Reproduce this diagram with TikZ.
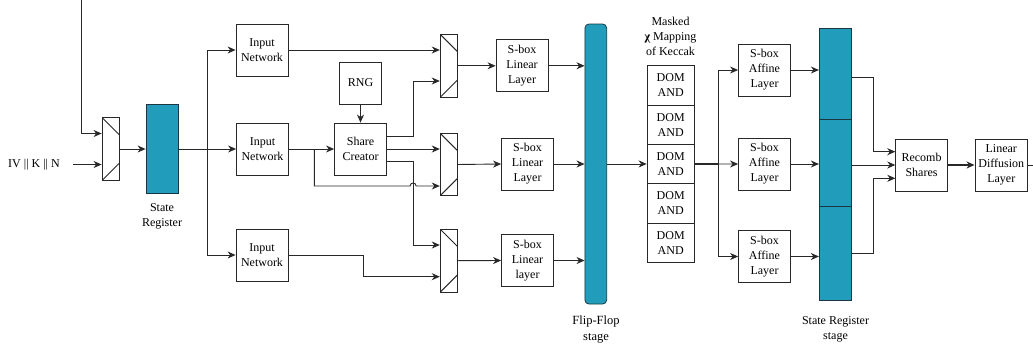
\documentclass[tikz,border=0pt]{standalone}
\usepackage{fontspec}
\setmainfont{Liberation Serif}
\usetikzlibrary{arrows.meta,calc}
\definecolor{regfill}{RGB}{33,157,187}
\definecolor{regdraw}{RGB}{25,55,65}
\definecolor{ln}{RGB}{40,40,40}
\begin{document}
\begin{tikzpicture}[x=1pt,y=-1pt,
  every node/.style={font=\fontsize{12}{15}\selectfont, inner sep=0pt},
  blk/.style={draw=ln, line width=0.8pt, fill=white, align=center, minimum width=52pt, minimum height=52pt},
  dom/.style={blk, minimum width=47.3pt, minimum height=39.3pt},
  muxbox/.style={draw=ln, line width=0.8pt, fill=white, minimum width=17pt, minimum height=63pt,
    path picture={\draw[ln, line width=1pt] (path picture bounding box.north west) -- ([yshift=-17pt]path picture bounding box.north east);
      \draw[ln, line width=1pt] (path picture bounding box.south west) -- ([yshift=17pt]path picture bounding box.south east);}},
  reg/.style={draw=regdraw, line width=0.8pt, fill=regfill},
  lbl/.style={align=center},
  wire/.style={draw=ln, line width=0.9pt},
  arr/.style={wire, -{Stealth[length=8pt,width=7pt,inset=2.5pt]}}
]
\useasboundingbox (0,0) rectangle (1033,351);

% nodes
\node[lbl] (ivk) at (34,164.5) {IV || K || N};
\node[muxbox] (mux1) at (110.5,149) {};
\node[reg, minimum width=32pt, minimum height=89pt] (sreg) at (162,148.5) {};
\node[lbl] (sregl) at (162,216) {State\\Register};
\node[blk] (in1) at (262,50) {Input\\Network};
\node[blk] (in2) at (262.5,149) {Input\\Network};
\node[blk] (in3) at (262,255) {Input\\Network};
\node[blk, minimum width=42pt, minimum height=42pt] (rng) at (360.5,83) {RNG};
\node[blk] (sc) at (360.5,149) {Share\\Creator};
\node[muxbox] (muxA) at (448.7,65.8) {};
\node[muxbox, minimum height=62.4pt] (muxB) at (448.7,164.5) {};
\node[muxbox] (muxC) at (448.7,260.7) {};
\node[blk] (ll1) at (522,65.8) {S-box\\Linear\\Layer};
\node[blk] (ll2) at (527.5,164) {S-box\\Linear\\Layer};
\node[blk] (ll3) at (527.5,260.5) {S-box\\Linear\\layer};
\node[reg, rounded corners=4pt, minimum width=21.7pt, minimum height=280pt] (ff) at (595.8,164) {};
\node[lbl, font=\fontsize{12.5}{16}\selectfont] (ffl) at (596,330) {Flip-Flop\\stage};
\node[lbl] (mask) at (670.5,36.5) {Masked\\{\bfseries χ} Mapping\\of Keccak};
\node[dom] (dom1) at (670.7,85.35) {DOM\\AND};
\node[dom] (dom2) at (670.7,124.65) {DOM\\AND};
\node[dom] (dom3) at (670.7,163.95) {DOM\\AND};
\node[dom] (dom4) at (670.7,203.25) {DOM\\AND};
\node[dom] (dom5) at (670.7,242.55) {DOM\\AND};
\node[blk] (aff1) at (764.5,70) {S-box\\Affine\\Layer};
\node[blk] (aff2) at (764.5,164) {S-box\\Affine\\Layer};
\node[blk] (aff3) at (764.5,256.5) {S-box\\Affine\\Layer};
\node[reg, minimum width=32.4pt, minimum height=91pt] (srs1) at (835.5,73.8) {};
\node[reg, minimum width=32.4pt, minimum height=86.7pt] (srs2) at (835.5,162.65) {};
\node[reg, minimum width=32.4pt, minimum height=94pt] (srs3) at (835.5,253) {};
\node[lbl] (srsl) at (835.5,329.5) {State Register\\stage};
\node[blk, minimum width=51.6pt] (rec) at (921.5,165) {Recomb\\Shares};
\node[blk, minimum width=52.7pt] (ldl) at (1001.3,165) {Linear\\Diffusion\\Layer};

% helper coordinates
\coordinate (topin) at (81.7,0);
\coordinate (br1) at ($(sreg.east |- in2.west)!0.5!(in2.west)$);
\coordinate (br2) at ($(in2.east)+(25.5,0)$);
\coordinate (jx) at ($(sc.east)+(26.2,0)$);
\coordinate (jx3) at ($(in3.east)+(75.5,0)$);
\coordinate (muxA-i2) at ($(muxA.west)+(0,15.2)$);
\coordinate (muxB-i2) at ($(muxB.west)+(0,21.5)$);
\coordinate (muxC-i1) at ($(muxC.west)+(0,-15.7)$);
\coordinate (muxC-i2) at ($(muxC.west)+(0,16)$);
\coordinate (br3) at ($(dom3.east)+(23.4,0)$);
\coordinate (jx4) at ($(srs1.east)+(21.6,0)$);
\coordinate (rec-i1) at ($(rec.west)+(0,-13.3)$);
\coordinate (rec-i3) at ($(rec.west)+(0,13.3)$);
\coordinate (outend) at ($(ldl.east)+(6,0)$);

% connectors
\draw[arr] (topin) |- ($(mux1.west)+(0,-15.5)$);
\draw[arr] ([xshift=13pt]ivk.east) -- ($(mux1.west)+(0,15.5)$);
\draw[arr] (mux1.east) -- (sreg.west |- mux1.east);
\draw[arr] (sreg.east |- in2.west) -- (in2.west);
\draw[arr] (br1) |- (in1.west);
\draw[arr] (br1) |- (in3.west);
\draw[arr] (in1.east) -- (in1.east -| muxA.west);
\draw[arr] (rng) -- (sc);
\draw[arr] (in2.east) -- (sc.west);
\draw[arr] ($(sc.east)+(0,-13)$) -| (jx |- muxA-i2) -- (muxA-i2);
\draw[arr] (sc.east) -- (sc.east -| muxB.west);
\draw[arr] ($(sc.east)+(0,12.7)$) -| (jx |- muxC-i1) -- (muxC-i1);
\draw[arr] (br2) |- ($(jx |- muxB-i2)+(-3,0)$) .. controls +(0,-4) and ($(jx |- muxB-i2)+(3,-4)$) .. ($(jx |- muxB-i2)+(3,0)$) -- (muxB-i2);
\draw[arr] (in3.east) -| (jx3 |- muxC-i2) -- (muxC-i2);
\draw[arr] (muxA.east) -- (ll1.west);
\draw[arr] (muxB.east) -- (ll2.west);
\draw[arr] (muxC.east) -- (ll3.west);
\draw[arr] (ll1.east) -- (ll1.east -| ff.west);
\draw[arr] (ll2.east) -- (ll2.east -| ff.west);
\draw[arr] (ll3.east) -- (ll3.east -| ff.west);
\draw[arr] (ff.east |- dom3.west) -- (dom3.west);
\draw[wire, line width=1.3pt] (dom3.east) -- (br3);
\draw[arr] (br3) |- (aff1.west);
\draw[arr] (br3) -- (aff2.west);
\draw[arr] (br3) |- (aff3.west);
\draw[arr] (aff1.east) -- (aff1.east -| srs1.west);
\draw[arr] (aff2.east) -- (aff2.east -| srs2.west);
\draw[arr] (aff3.east) -- (aff3.east -| srs3.west);
\draw[arr] ($(srs1.east)+(0,3.5)$) -| (jx4 |- rec-i1) -- (rec-i1);
\draw[arr] (srs2.east |- rec.west) -- (rec.west);
\draw[arr] (srs3.east) -| (jx4 |- rec-i3) -- (rec-i3);
\draw[arr, line width=1.6pt] (rec.east) -- (ldl.west);
\draw[wire] (ldl.east) -- (outend);
\end{tikzpicture}
\end{document}
